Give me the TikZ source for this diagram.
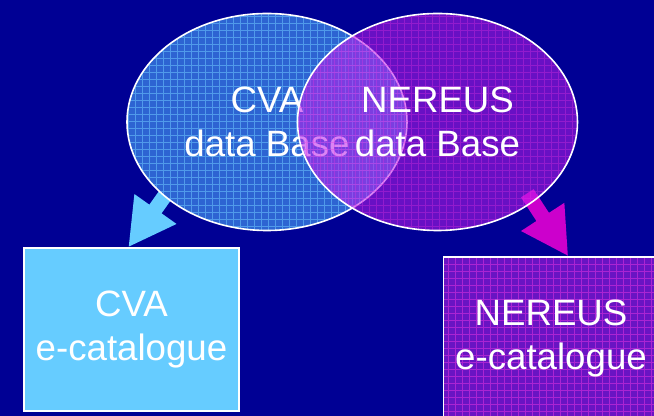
\documentclass[tikz,border=0pt]{standalone}
\usepackage{fontspec}
\setmainfont{Liberation Sans}
\usetikzlibrary{shapes.geometric,arrows.meta,calc,backgrounds}
\definecolor{navy}{RGB}{0,0,148}
\definecolor{cvablue}{RGB}{45,100,210}
\definecolor{cvagrid}{RGB}{110,200,255}
\definecolor{cvalight}{RGB}{102,204,255}
\definecolor{nereusviolet}{RGB}{190,30,236}
\definecolor{nereusbox}{RGB}{105,20,195}
\definecolor{nereusgrid}{RGB}{225,50,225}
\definecolor{nereusarrow}{RGB}{204,0,204}
\tikzset{
	captiontext/.style={text=white,align=center,font=\fontsize{27.5}{33}\selectfont},
	database/.style={ellipse,draw=white,line width=1.2pt,inner sep=0pt,minimum width=210pt,minimum height=162.75pt,captiontext},
	catalogue/.style={rectangle,draw=white,line width=1pt,inner sep=0pt,minimum width=161.25pt,minimum height=122.25pt,captiontext},
	gridded/.style={path picture={\draw[#1,line width=0.4pt] (path picture bounding box.south west) grid[step=5.25pt] (path picture bounding box.north east);}},
	bigarrow/.style={line width=11.25pt,-{Triangle[length=35.25pt,width=36pt]},shorten <=-8pt}
}
\begin{document}
\begin{tikzpicture}[x=0.75pt,y=0.75pt]
	\useasboundingbox (0,0) rectangle (654,416);
	
	\node[catalogue,fill=cvalight] (cvacat) at (131.5,86.5) {CVA\\e-catalogue};
	\node[catalogue,fill=nereusbox,gridded={nereusgrid,draw opacity=0.55}] (nereuscat) at (551,77.5) {NEREUS\\e-catalogue};
	
	\node[database,fill=cvablue,gridded={cvagrid,draw opacity=0.55}] (cvadb) at (267,294) {CVA\\data Base};
	\node[database,fill=nereusviolet,fill opacity=0.55,text opacity=1,gridded={nereusgrid,draw opacity=0.35}] (nereusdb) at (437.5,294) {NEREUS\\data Base};
	
	\begin{scope}[on background layer]
		\fill[navy] (0,0) rectangle (654,416);
		\draw[bigarrow,cvalight] (cvadb.216) -- ($(cvacat.north west)!0.485!(cvacat.north east)$);
		\draw[bigarrow,nereusarrow] (nereusdb.320) -- ($(nereuscat.north west)!0.58!(nereuscat.north east)$);
	\end{scope}
\end{tikzpicture}
\end{document}
